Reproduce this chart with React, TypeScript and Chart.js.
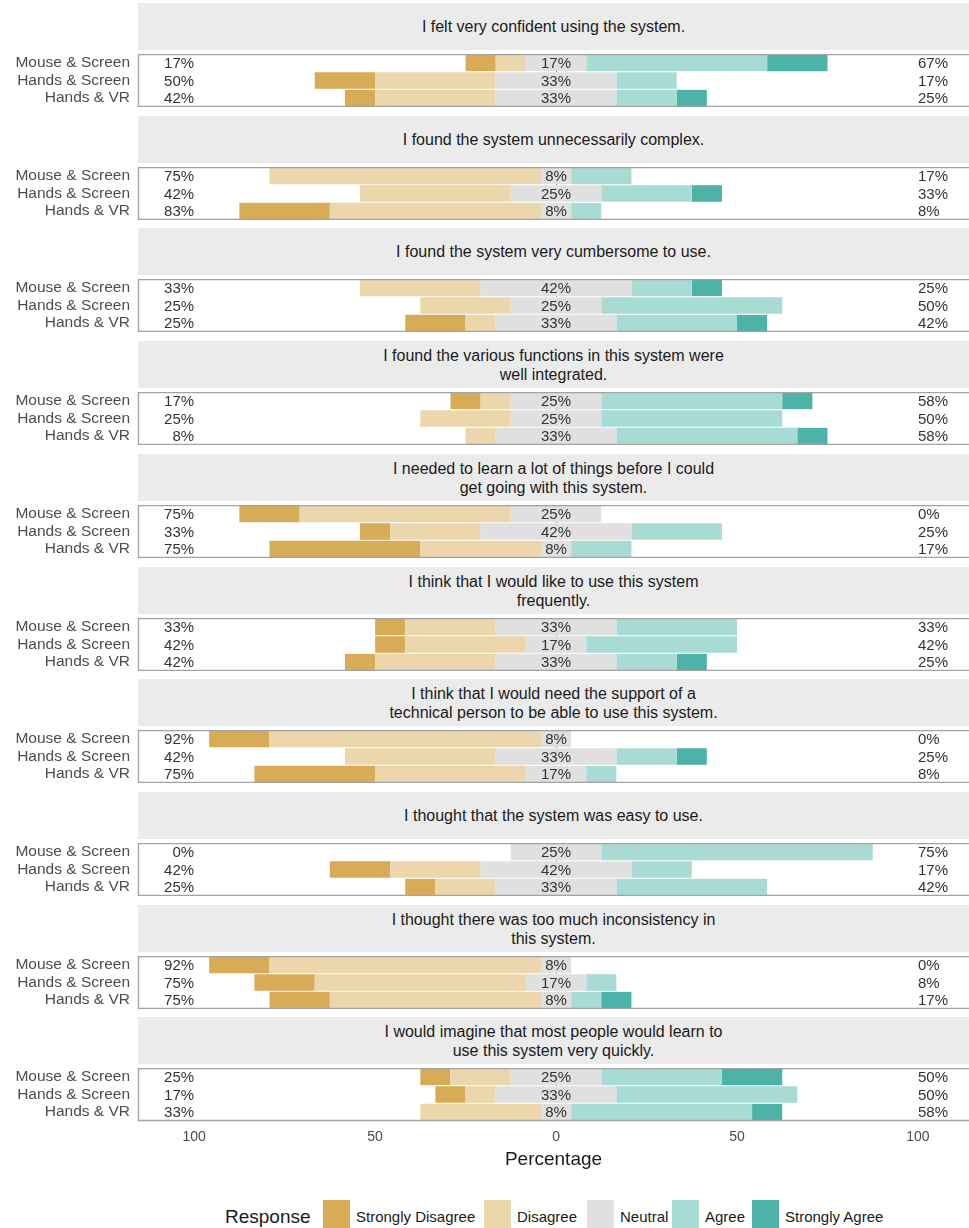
import React, { useEffect, useRef } from "react";
import { Chart, registerables } from "chart.js";

Chart.register(...registerables);

// ---------------- DATA ----------------
const groups = ["Mouse & Screen", "Hands & Screen", "Hands & VR"];

const questions = [
  "I felt very confident using the system.",
  "I found the system unnecessarily complex.",
  "I found the system very cumbersome to use.",
  "I found the various functions in this system were\nwell integrated.",
  "I needed to learn a lot of things before I could\nget going with this system.",
  "I think that I would like to use this system\nfrequently.",
  "I think that I would need the support of a\ntechnical person to be able to use this system.",
  "I thought that the system was easy to use.",
  "I thought there was too much inconsistency in\nthis system.",
  "I would imagine that most people would learn to\nuse this system very quickly.",
];

// percentages per question, for [Mouse & Screen, Hands & Screen, Hands & VR]
const stronglyDisagree = [
  [8.33, 16.67, 8.33],
  [0, 0, 25],
  [0, 0, 16.67],
  [8.33, 0, 0],
  [16.67, 8.33, 41.67],
  [8.33, 8.33, 8.33],
  [16.67, 0, 33.33],
  [0, 16.67, 8.33],
  [16.67, 16.67, 16.67],
  [8.33, 8.33, 0],
];
const disagree = [
  [8.33, 33.33, 33.33],
  [75, 41.67, 58.33],
  [33.33, 25, 8.33],
  [8.33, 25, 8.33],
  [58.33, 25, 33.33],
  [25, 33.33, 33.33],
  [75, 41.67, 41.67],
  [0, 25, 16.67],
  [75, 58.33, 58.33],
  [16.67, 8.33, 33.33],
];
const neutral = [
  [16.67, 33.33, 33.33],
  [8.33, 25, 8.33],
  [41.67, 25, 33.33],
  [25, 25, 33.33],
  [25, 41.67, 8.33],
  [33.33, 16.67, 33.33],
  [8.33, 33.33, 16.67],
  [25, 41.67, 33.33],
  [8.33, 16.67, 8.33],
  [25, 33.33, 8.33],
];
const agree = [
  [50, 16.67, 16.67],
  [16.67, 25, 8.33],
  [16.67, 50, 33.33],
  [50, 50, 50],
  [0, 25, 16.67],
  [33.33, 41.67, 16.67],
  [0, 16.67, 8.33],
  [75, 16.67, 41.67],
  [0, 8.33, 8.33],
  [33.33, 50, 50],
];
const stronglyAgree = [
  [16.67, 0, 8.33],
  [0, 8.33, 0],
  [8.33, 0, 8.33],
  [8.33, 0, 8.33],
  [0, 0, 0],
  [0, 0, 8.33],
  [0, 8.33, 0],
  [0, 0, 0],
  [0, 0, 8.33],
  [16.67, 0, 8.33],
];

const tickValues = [-100, -50, 0, 50, 100];
const responseLabels = ["Strongly Disagree", "Disagree", "Neutral", "Agree", "Strongly Agree"];
const responseColors = ["#d8ab57", "#ecd7ac", "#e0e0e0", "#a8dbd4", "#4db2a7"];

// ---------------- LAYOUT ----------------
const FONT = '"Liberation Sans", Arial, Helvetica, sans-serif';
const W = 969;
const H = 1228;
const LEFT = 138;
const X_MIN = -115.5;
const X_MAX = 114.1;
const PANEL_TOP0 = 54;
const PERIOD = 112.7;
const PANEL_H = 53;
const STRIP_OFF = 51;
const STRIP_H = 47;
const AXIS_H = 50;

const panelTop = (i: number) => Math.round(PANEL_TOP0 + PERIOD * i);

const fmt = (v: number) => `${Math.round(v)}%`;

function makePanelPlugin(qi: number) {
  return {
    id: "panelDecor" + qi,
    beforeDatasetsDraw(chart: any) {
      const { ctx, chartArea, scales } = chart;
      const x0 = Math.round(scales.x.getPixelForValue(0)) + 0.5;
      ctx.save();
      ctx.strokeStyle = "#111";
      ctx.lineWidth = 1;
      ctx.setLineDash([1.5, 2.5]);
      ctx.beginPath();
      ctx.moveTo(x0, chartArea.top);
      ctx.lineTo(x0, chartArea.bottom);
      ctx.stroke();
      ctx.restore();
    },
    afterDatasetsDraw(chart: any) {
      const { ctx, chartArea, scales } = chart;
      const { left, right, top, bottom } = chartArea;
      ctx.save();
      ctx.strokeStyle = "#a3a3a3";
      ctx.lineWidth = 1.3;
      ctx.beginPath();
      ctx.moveTo(right + 2, top + 0.5);
      ctx.lineTo(left + 0.5, top + 0.5);
      ctx.lineTo(left + 0.5, bottom - 0.5);
      ctx.lineTo(right + 2, bottom - 0.5);
      ctx.stroke();
      ctx.restore();

      ctx.save();
      ctx.font = `15px ${FONT}`;
      ctx.fillStyle = "#333333";
      ctx.textBaseline = "middle";
      const xl = scales.x.getPixelForValue(-100);
      const xc = scales.x.getPixelForValue(0);
      const xr = scales.x.getPixelForValue(100);
      groups.forEach((_, gi) => {
        const y = scales.y.getPixelForValue(gi) + 1;
        const leftVal = stronglyDisagree[qi][gi] + disagree[qi][gi];
        const rightVal = agree[qi][gi] + stronglyAgree[qi][gi];
        ctx.textAlign = "right";
        ctx.fillText(fmt(leftVal), xl, y);
        ctx.textAlign = "center";
        ctx.fillText(fmt(neutral[qi][gi]), xc, y);
        ctx.textAlign = "left";
        ctx.fillText(fmt(rightVal), xr, y);
      });
      ctx.restore();
    },
  };
}

function Facet({ qi, last }: { qi: number; last: boolean }) {
  const ref = useRef<HTMLCanvasElement | null>(null);
  useEffect(() => {
    if (!ref.current) return;
    const common = { stack: "s", categoryPercentage: 1, barPercentage: 0.94, borderWidth: 0 };
    const datasets = [
      { label: "Neutral", data: neutral[qi].map((v) => -v / 2), backgroundColor: responseColors[2] },
      { label: "Disagree", data: disagree[qi].map((v) => -v), backgroundColor: responseColors[1] },
      { label: "Strongly Disagree", data: stronglyDisagree[qi].map((v) => -v), backgroundColor: responseColors[0] },
      { label: "Neutral", data: neutral[qi].map((v) => v / 2), backgroundColor: responseColors[2] },
      { label: "Agree", data: agree[qi], backgroundColor: responseColors[3] },
      { label: "Strongly Agree", data: stronglyAgree[qi], backgroundColor: responseColors[4] },
    ].map((d) => ({ ...d, ...common }));

    const xScale: any = {
      stacked: true,
      min: X_MIN,
      max: X_MAX,
      display: last,
      afterBuildTicks: (s: any) => {
        s.ticks = tickValues.map((v) => ({ value: v }));
      },
      ticks: {
        callback: (v: any) => String(Math.abs(Number(v))),
        font: { family: FONT, size: 14 },
        color: "#4d4d4d",
        padding: 8,
        autoSkip: false,
        maxRotation: 0,
      },
      grid: { display: false, drawTicks: false },
      border: { display: false },
      title: {
        display: true,
        text: "Percentage",
        font: { family: FONT, size: 19 },
        color: "#1a1a1a",
        padding: 0,
      },
    };
    if (last) {
      xScale.afterFit = (s: any) => {
        s.height = AXIS_H;
        s.paddingLeft = 0;
        s.paddingRight = 0;
      };
    }

    const chart = new Chart(ref.current, {
      type: "bar",
      data: { labels: groups, datasets },
      options: {
        indexAxis: "y",
        responsive: false,
        animation: false,
        events: [],
        layout: { padding: 0 },
        plugins: { legend: { display: false }, tooltip: { enabled: false } },
        scales: {
          x: xScale,
          y: {
            stacked: true,
            ticks: {
              font: { family: FONT, size: 15.5 },
              color: "#4d4d4d",
              padding: 8,
              autoSkip: false,
            },
            grid: { display: false, drawTicks: false },
            border: { display: false },
            afterFit: (s: any) => {
              s.width = LEFT;
              s.paddingTop = 0;
              s.paddingBottom = 0;
            },
          },
        },
      } as any,
      plugins: [makePanelPlugin(qi)],
    });
    return () => chart.destroy();
  }, [qi, last]);

  const top = panelTop(qi);
  const h = PANEL_H + (last ? AXIS_H : 0);
  return (
    <>
      <div
        style={{
          position: "absolute",
          left: LEFT,
          top: top - STRIP_OFF,
          width: W - LEFT,
          height: STRIP_H,
          background: "#ebebeb",
          display: "flex",
          alignItems: "center",
          justifyContent: "center",
          textAlign: "center",
          whiteSpace: "pre-line",
          fontFamily: FONT,
          fontSize: 16,
          lineHeight: "19px",
          color: "#1a1a1a",
        }}
      >
        {questions[qi]}
      </div>
      <canvas
        ref={ref}
        width={W}
        height={h}
        style={{ position: "absolute", left: 0, top, width: W, height: h, display: "block" }}
      />
    </>
  );
}

const legendKeyLeft = [323, 484, 587, 672, 752];

export default function App() {
  return (
    <div
      style={{
        position: "absolute",
        left: 0,
        top: 0,
        width: W,
        height: H,
        overflow: "hidden",
        background: "#ffffff",
        fontFamily: FONT,
      }}
    >
      {questions.map((_, qi) => (
        <Facet key={qi} qi={qi} last={qi === questions.length - 1} />
      ))}
      <div
        style={{
          position: "absolute",
          left: 225,
          top: 1206,
          fontSize: 19,
          lineHeight: "22px",
          color: "#1a1a1a",
        }}
      >
        Response
      </div>
      {responseLabels.map((lab, i) => (
        <React.Fragment key={lab}>
          <div
            style={{
              position: "absolute",
              left: legendKeyLeft[i],
              top: 1200,
              width: 27,
              height: 30,
              background: responseColors[i],
            }}
          />
          <div
            style={{
              position: "absolute",
              left: legendKeyLeft[i] + 33,
              top: 1208,
              fontSize: 15,
              lineHeight: "18px",
              color: "#1a1a1a",
              whiteSpace: "nowrap",
            }}
          >
            {lab}
          </div>
        </React.Fragment>
      ))}
    </div>
  );
}
